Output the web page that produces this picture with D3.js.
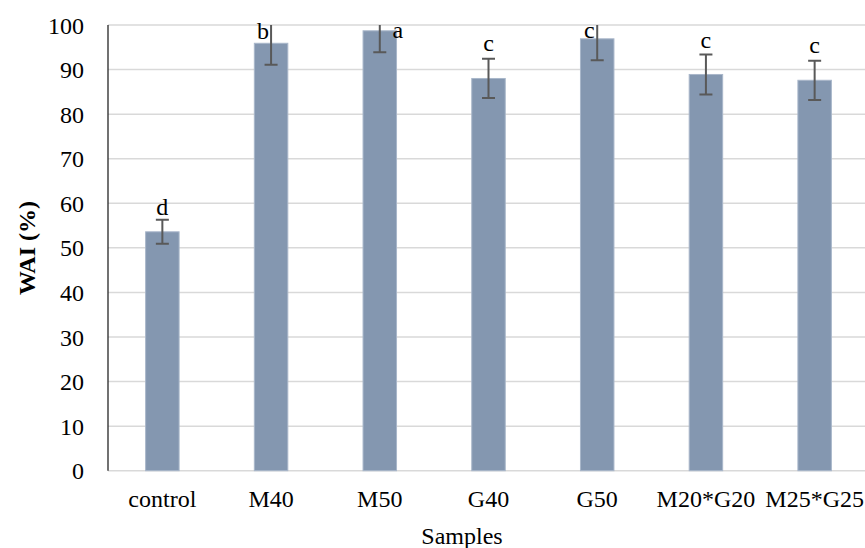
<!DOCTYPE html>
<html>
<head>
<meta charset="utf-8">
<script src="https://cdn.jsdelivr.net/npm/d3@7"></script>
<style>
  body { margin: 0; background: #fff; }
  svg { display: block; font-family: "Liberation Serif", "Times New Roman", serif; }
</style>
</head>
<body>
<svg width="865" height="548"></svg>
<script>
var samples = ["control", "M40", "M50", "G40", "G50", "M20*G20", "M25*G25"];
var wai = [53.6, 95.9, 98.7, 88.0, 96.9, 88.9, 87.6];
var errs = [2.7, 4.8, 4.8, 4.4, 4.8, 4.5, 4.4];
var letters = ["d", "b", "a", "c", "c", "c", "c"];
var yTicks = [0, 10, 20, 30, 40, 50, 60, 70, 80, 90, 100];

// hand placed letter offsets (px) like the moved Excel labels
var letterDx = [0, -8, 18, 0, -8, 0, 0];
var letterDy = [-5, 14, 13, -8, 13, -6, -8];

var svg = d3.select("svg"),
  margin = { left: 108, right: 869, top: 25, bottom: 470.7 };

var x = d3.scaleBand()
  .domain(samples)
  .range([margin.left, margin.right])
  .paddingInner(0.692)
  .paddingOuter(0.346);

var y = d3.scaleLinear()
  .domain([0, 100])
  .range([margin.bottom, margin.top]);

svg.append("defs").append("clipPath")
  .attr("id", "plotclip")
  .append("rect")
  .attr("x", margin.left)
  .attr("y", margin.top)
  .attr("width", 865 - margin.left)
  .attr("height", margin.bottom - margin.top + 2);

// gridlines
svg.append("g")
  .selectAll("line")
  .data(yTicks)
  .enter().append("line")
  .attr("x1", margin.left)
  .attr("x2", 865)
  .attr("y1", function(d) { return y(d); })
  .attr("y2", function(d) { return y(d); })
  .attr("stroke", "#d9d9d9")
  .attr("stroke-width", 1.5);

// tick labels
svg.append("g")
  .selectAll("text")
  .data(yTicks)
  .enter().append("text")
  .attr("x", 84)
  .attr("y", function(d) { return y(d); })
  .attr("dy", "0.36em")
  .attr("text-anchor", "end")
  .attr("font-size", 24)
  .attr("fill", "#000")
  .text(function(d) { return d; });

// bars
svg.append("g")
  .selectAll("rect")
  .data(samples)
  .enter().append("rect")
  .attr("x", function(d) { return x(d); })
  .attr("width", x.bandwidth())
  .attr("y", function(d, i) { return y(wai[i]); })
  .attr("height", function(d, i) { return y(0) - y(wai[i]); })
  .attr("fill", "#8497b0")
  .attr("stroke", "#a9b7ca")
  .attr("stroke-width", 1);

// y axis line
svg.append("line")
  .attr("x1", margin.left).attr("x2", margin.left)
  .attr("y1", y(100)).attr("y2", y(0))
  .attr("stroke", "#262626")
  .attr("stroke-width", 1.3);

// error bars
var eb = svg.append("g")
  .attr("clip-path", "url(#plotclip)")
  .attr("stroke", "#595959")
  .attr("stroke-width", 2);

samples.forEach(function(s, i) {
  var cx = x(s) + x.bandwidth() / 2;
  eb.append("line")
    .attr("x1", cx).attr("x2", cx)
    .attr("y1", y(wai[i] + errs[i])).attr("y2", y(wai[i] - errs[i]));
  [wai[i] + errs[i], wai[i] - errs[i]].forEach(function(v) {
    eb.append("line")
      .attr("x1", cx - 6.5).attr("x2", cx + 6.5)
      .attr("y1", y(v)).attr("y2", y(v));
  });
});

// significance letters
svg.append("g")
  .selectAll("text")
  .data(samples)
  .enter().append("text")
  .attr("x", function(d, i) { return x(d) + x.bandwidth() / 2 + letterDx[i]; })
  .attr("y", function(d, i) { return Math.max(y(wai[i] + errs[i]), y(100)) + letterDy[i]; })
  .attr("text-anchor", "middle")
  .attr("font-size", 24)
  .attr("fill", "#000")
  .text(function(d, i) { return letters[i]; });

// category labels
svg.append("g")
  .selectAll("text")
  .data(samples)
  .enter().append("text")
  .attr("x", function(d) { return x(d) + x.bandwidth() / 2; })
  .attr("y", 507)
  .attr("text-anchor", "middle")
  .attr("font-size", 24)
  .attr("fill", "#000")
  .text(function(d) { return d; });

// axis titles
svg.append("text")
  .attr("x", 462)
  .attr("y", 544)
  .attr("text-anchor", "middle")
  .attr("font-size", 24)
  .attr("fill", "#000")
  .text("Samples");

svg.append("text")
  .attr("transform", "translate(35,248) rotate(-90)")
  .attr("text-anchor", "middle")
  .attr("font-size", 24)
  .attr("font-weight", "bold")
  .attr("fill", "#000")
  .text("WAI (%)");
</script>
</body>
</html>
